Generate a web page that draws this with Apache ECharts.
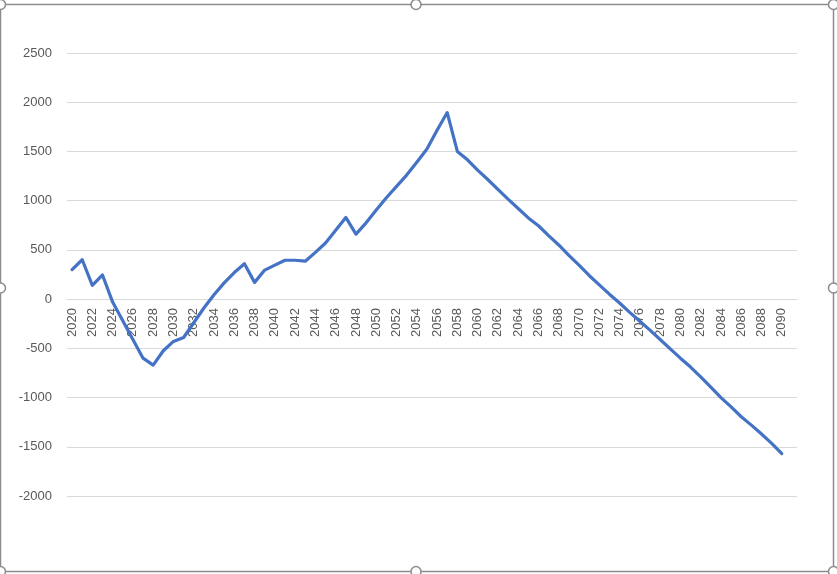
<!DOCTYPE html>
<html>
<head>
<meta charset="utf-8">
<script src="https://cdn.jsdelivr.net/npm/echarts@6/dist/echarts.min.js"></script>
<style>
html,body{margin:0;padding:0;background:#fff;}
#chart{width:837px;height:574px;}
</style>
</head>
<body>
<div id="chart"></div>
<script>
// Categories: years 2020..2091 (2091 has no value)
const years = [];
for (let y = 2020; y <= 2091; y++) years.push(String(y));

const values = [
  300, 400, 140, 245, -30, -220, -410, -600, -670, -525,
  -430, -390, -240, -90, 45, 165, 270, 360, 170, 295,
  345, 395, 395, 385, 475, 570, 700, 830, 660, 775,
  905, 1030, 1145, 1260, 1390, 1525, 1715, 1895, 1500, 1415,
  1310, 1215, 1115, 1015, 920, 825, 745, 645, 550, 445,
  345, 240, 145, 50, -40, -135, -225, -315, -410, -505,
  -600, -690, -790, -895, -1000, -1095, -1195, -1280, -1370, -1465,
  -1570, null
];

const yMin = -2000, yMax = 2500, yStep = 500;

const W = 837, H = 574;
const gridTop = 53, gridBottom = 78;
const plotH = H - gridTop - gridBottom;
// place the category axis at the value 0 line
const xAxisOffset = -plotH * (0 - yMin) / (yMax - yMin);

const chart = echarts.init(document.getElementById('chart'), null, {renderer: 'canvas'});

const handle = (cx, cy) => ({
  type: 'circle', shape: {cx: cx, cy: cy, r: 5},
  style: {fill: '#fff', stroke: '#8c8c8c', lineWidth: 1.5}, z: 100
});

const font = 'Liberation Sans, Arial, sans-serif';

chart.setOption({
  animation: false,
  backgroundColor: '#fff',
  grid: {left: 67, right: 40, top: gridTop, bottom: gridBottom, containLabel: false},
  xAxis: {
    type: 'category',
    data: years,
    boundaryGap: true,
    position: 'bottom',
    offset: xAxisOffset,
    axisLine: {show: true, onZero: false, lineStyle: {color: '#d9d9d9', width: 1}},
    axisTick: {show: false},
    axisLabel: {
      interval: 1, rotate: 90, margin: 9,
      color: '#595959', fontSize: 13, fontFamily: font
    },
    splitLine: {show: false}
  },
  yAxis: {
    type: 'value',
    min: yMin, max: yMax, interval: yStep,
    axisLine: {show: false},
    axisTick: {show: false},
    axisLabel: {
      margin: 15, color: '#595959', fontSize: 13, fontFamily: font,
      formatter: v => String(v)
    },
    splitLine: {show: true, lineStyle: {color: '#d9d9d9', width: 1}}
  },
  series: [{
    type: 'line',
    data: values,
    symbol: 'none',
    smooth: false,
    connectNulls: false,
    z: 5,
    lineStyle: {color: '#4472C4', width: 3.2, cap: 'round', join: 'round'},
    itemStyle: {color: '#4472C4'}
  }],
  graphic: [
    {type: 'rect', shape: {x: 0.5, y: 4.5, width: 833, height: 567},
     style: {fill: 'none', stroke: '#8c8c8c', lineWidth: 1.5}, z: 99},
    handle(0.5, 4.5), handle(416, 4.5), handle(833.5, 4.5),
    handle(0.5, 288), handle(833.5, 288),
    handle(0.5, 571.5), handle(416, 571.5), handle(833.5, 571.5)
  ]
});
</script>
</body>
</html>
